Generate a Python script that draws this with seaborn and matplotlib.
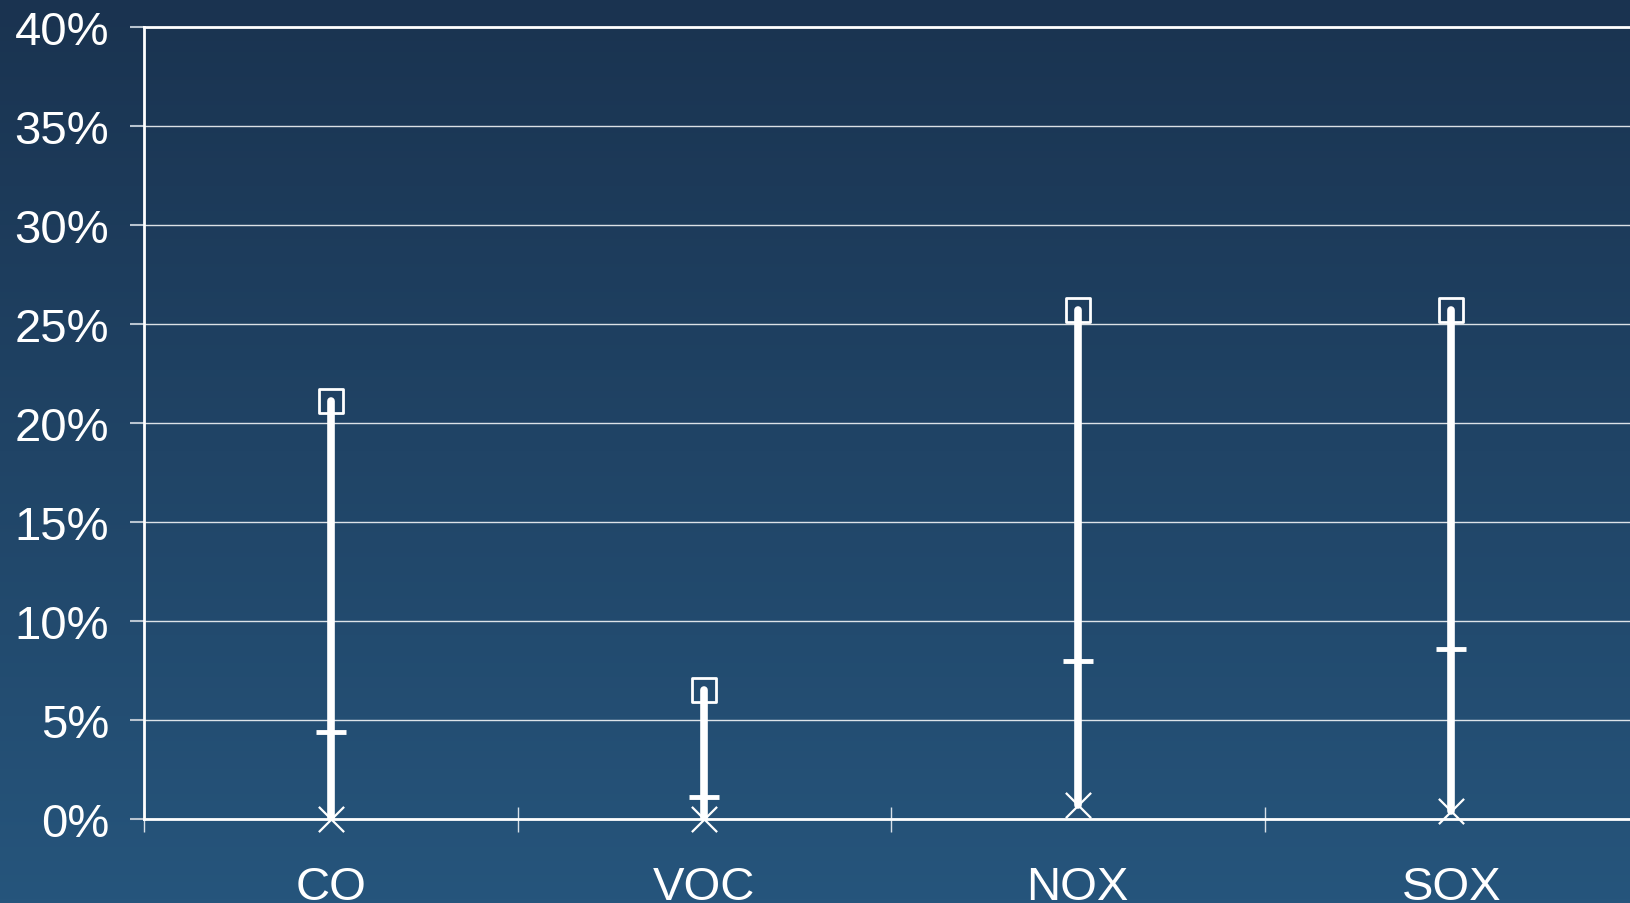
import matplotlib
matplotlib.use("Agg")
import matplotlib.pyplot as plt
import numpy as np
import pandas as pd
import seaborn as sns
from matplotlib.colors import LinearSegmentedColormap
from matplotlib.ticker import FuncFormatter, FixedLocator

# values (percent)
pollutants = ["CO", "VOC", "NOX", "SOX"]
high_vals = [21.1, 6.5, 25.7, 25.7]
mean_vals = [4.4, 1.1, 8.0, 8.6]
low_vals = [0.0, 0.0, 0.7, 0.4]
y_ticks = [0, 5, 10, 15, 20, 25, 30, 35, 40]

df = pd.DataFrame({
    "pollutant": pollutants,
    "high": high_vals,
    "mean": mean_vals,
    "low": low_vals,
})

sns.set_theme(style="white")
plt.rcParams["font.family"] = ["Liberation Sans", "DejaVu Sans"]

fig = plt.figure(figsize=(16.31, 9.04), dpi=100)

# gradient background
bg = fig.add_axes([0, 0, 1, 1], zorder=-1)
grad_cmap = LinearSegmentedColormap.from_list("bg", ["#26557c", "#1a3350"])
bg.imshow(np.linspace(0, 1, 256).reshape(-1, 1), aspect="auto", cmap=grad_cmap,
          origin="lower", extent=[0, 1, 0, 1])
bg.set_axis_off()

ax = fig.add_axes([0.0883, 0.093, 0.916, 0.876])
ax.patch.set_alpha(0)

ax.vlines(df["pollutant"], df["low"], df["high"], color="white", linewidth=5.5,
          capstyle="round", zorder=3)
sns.scatterplot(data=df, x="pollutant", y="high", marker="s", s=290,
                facecolor="none", edgecolor="white", linewidth=2, ax=ax,
                zorder=4, clip_on=False)
sns.scatterplot(data=df, x="pollutant", y="mean", marker="_", s=440,
                color="white", linewidth=3.5, ax=ax, zorder=4, clip_on=False)
sns.scatterplot(data=df, x="pollutant", y="low", marker="x", s=330,
                color="white", linewidth=1.6, ax=ax, zorder=4, clip_on=False)

ax.set_xlim(-0.5, len(pollutants) - 0.5)
ax.set_ylim(0, 40)
ax.set_yticks(y_ticks)
ax.yaxis.set_major_formatter(FuncFormatter(lambda v, _: f"{v:.0f}%"))
ax.grid(axis="y", color="white", linewidth=1, alpha=0.85)
ax.set_axisbelow(True)

# category labels on minor ticks, dividers on major ticks
ax.xaxis.set_major_locator(FixedLocator([i - 0.5 for i in range(len(pollutants))]))
ax.xaxis.set_minor_locator(FixedLocator(list(range(len(pollutants)))))
ax.set_xticklabels([], minor=False)
ax.set_xticklabels(pollutants, minor=True)
ax.tick_params(axis="x", which="major", direction="inout", length=18, width=1,
               color="#d8e0e8", bottom=True)
ax.tick_params(axis="x", which="minor", length=0, pad=33, labelsize=34,
               labelcolor="white")
ax.tick_params(axis="y", direction="out", length=10, width=1.5, color="#b8c4d0",
               pad=15, labelsize=34, labelcolor="white", left=True)

ax.set_xlabel("")
ax.set_ylabel("")
for side in ["left", "bottom", "top"]:
    ax.spines[side].set_color("white")
    ax.spines[side].set_linewidth(2)
ax.spines["right"].set_visible(False)

fig.savefig("out.png", dpi=100)
